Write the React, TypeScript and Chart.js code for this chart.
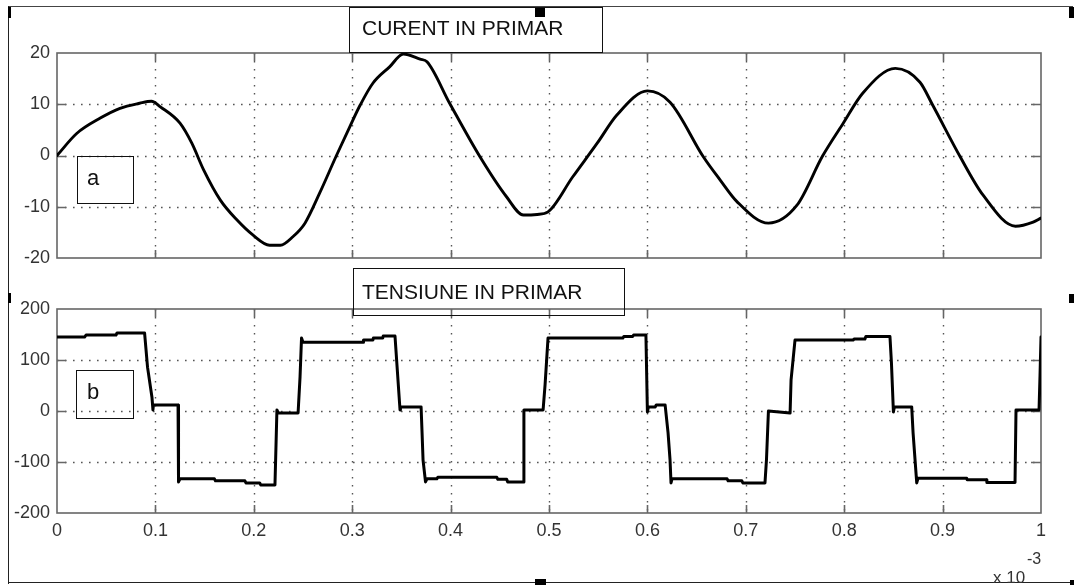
import React, { useEffect, useRef } from "react";
import { Chart, registerables } from "chart.js";

Chart.register(...registerables);

// ---- data (time in units of 1e-3 s) ----
const timeCurrent = [
  0, 0.02, 0.044, 0.064, 0.084, 0.096, 0.105, 0.125, 0.137, 0.149, 0.166, 0.183, 0.199, 0.216, 0.227,
  0.24, 0.252, 0.267, 0.284, 0.298, 0.308, 0.321, 0.338, 0.352, 0.369, 0.376, 0.399, 0.43, 0.457,
  0.474, 0.488, 0.499, 0.524, 0.549, 0.569, 0.6, 0.623, 0.657, 0.674, 0.691, 0.723, 0.752, 0.778, 0.799,
  0.819, 0.852, 0.877, 0.89, 0.918, 0.941, 0.974, 0.992, 1.0,
];
const current = [
  0, 4.3, 7.3, 9.2, 10.2, 10.6, 9.5, 6.3, 2.4, -2.8, -8.7, -12.6, -15.5, -17.5, -17.5,
  -15.8, -13.2, -7.3, 0, 5.8, 9.8, 14.1, 17.3, 19.8, 18.8, 18.3, 10.2, -0.3, -8.1,
  -11.6, -11.5, -11.0, -4.2, 2.4, 7.9, 12.6, 10.4, -0.3, -4.8, -9.0, -13.2, -9.7, -0.1, 6.3,
  12.2, 17.0, 14.3, 9.8, -0.3, -7.7, -13.8, -13.0, -12.2,
];

const timeVoltage = [
  0, 0.028, 0.0295, 0.06, 0.061, 0.089, 0.092, 0.0965, 0.0975, 0.098, 0.123, 0.1235, 0.125, 0.16, 0.161,
  0.191, 0.192, 0.206, 0.207, 0.2215, 0.2225, 0.2235, 0.225, 0.245, 0.247, 0.2485, 0.25, 0.311, 0.3115, 0.321,
  0.3215, 0.331, 0.3315, 0.3435, 0.3455, 0.3486, 0.349, 0.37, 0.371, 0.372, 0.3745, 0.376, 0.386, 0.387, 0.447,
  0.448, 0.457, 0.458, 0.474, 0.4745, 0.494, 0.496, 0.499, 0.575, 0.576, 0.585, 0.586, 0.5985, 0.6, 0.601,
  0.608, 0.609, 0.618, 0.621, 0.623, 0.624, 0.625, 0.681, 0.682, 0.696, 0.697, 0.7195, 0.721, 0.723, 0.745,
  0.746, 0.75, 0.809, 0.81, 0.821, 0.822, 0.8465, 0.848, 0.849, 0.85, 0.851, 0.8686, 0.87, 0.872, 0.8737,
  0.875, 0.9245, 0.925, 0.9448, 0.945, 0.9736, 0.9746, 0.998, 0.999, 1.0,
];
const voltage = [
  145, 145, 149, 149, 153, 153, 86, 27, 2, 12, 12, -139, -133, -133, -137,
  -137, -141, -141, -145, -145, -72, 2, -4, -4, 67, 143, 135, 135, 139, 139,
  143, 143, 147, 147, 90, 2, 8, 8, -43, -96, -139, -133, -133, -130, -130,
  -134, -134, -139, -139, 2, 2, 51, 143, 143, 146, 146, 149, 149, -2, 8,
  8, 12, 12, -43, -96, -141, -133, -133, -137, -137, -141, -141, -96, 0, -4,
  61, 139, 139, 141, 141, 146, 146, 95, 47, -2, 8, 8, -43, -96, -141,
  -132, -132, -135, -135, -140, -140, 2, 2, 70, 145,
];

const xTicks = [0, 0.1, 0.2, 0.3, 0.4, 0.5, 0.6, 0.7, 0.8, 0.9, 1];
const currentTicks = [-20, -10, 0, 10, 20];
const voltageTicks = [-200, -100, 0, 100, 200];

const FONT = '"Liberation Sans", Arial, Helvetica, sans-serif';

const panelPlugin = {
  id: "panelFrame",
  beforeDatasetsDraw(chart: any, _args: any, opts: any) {
    const { ctx, chartArea: a, scales } = chart;
    const xs = scales.x;
    const ys = scales.y;
    ctx.save();
    // dotted grid
    ctx.strokeStyle = "#555";
    ctx.lineWidth = 1.4;
    ctx.setLineDash([1.6, 6.4]);
    ctx.beginPath();
    for (const v of opts.xTicks) {
      if (v <= xs.min || v >= xs.max) continue;
      const px = Math.round(xs.getPixelForValue(v)) + 0.5;
      ctx.moveTo(px, a.top);
      ctx.lineTo(px, a.bottom);
    }
    for (const v of opts.yTicks) {
      if (v <= ys.min || v >= ys.max) continue;
      const py = Math.round(ys.getPixelForValue(v)) + 0.5;
      ctx.moveTo(a.left, py);
      ctx.lineTo(a.right, py);
    }
    ctx.stroke();
    ctx.setLineDash([]);
    // box
    ctx.strokeStyle = "#666";
    ctx.lineWidth = 1.6;
    ctx.strokeRect(a.left, a.top, a.right - a.left, a.bottom - a.top);
    // inward tick marks
    ctx.beginPath();
    for (const v of opts.xTicks) {
      if (v <= xs.min || v >= xs.max) continue;
      const px = Math.round(xs.getPixelForValue(v)) + 0.5;
      ctx.moveTo(px, a.top);
      ctx.lineTo(px, a.top + 8);
      ctx.moveTo(px, a.bottom);
      ctx.lineTo(px, a.bottom - 8);
    }
    for (const v of opts.yTicks) {
      if (v <= ys.min || v >= ys.max) continue;
      const py = Math.round(ys.getPixelForValue(v)) + 0.5;
      ctx.moveTo(a.left, py);
      ctx.lineTo(a.left + 9, py);
      ctx.moveTo(a.right, py);
      ctx.lineTo(a.right - 10, py);
    }
    ctx.stroke();
    ctx.restore();
  },
};

function makeConfig(
  times: number[],
  values: number[],
  yMin: number,
  yMax: number,
  yStep: number,
  yTicks: number[],
  padTop: number,
  padBottom: number,
  showX: boolean,
  width: number,
  smooth: boolean
): any {
  return {
    type: "line",
    data: {
      datasets: [
        {
          data: times.map((t, i) => ({ x: t, y: values[i] })),
          borderColor: "#000",
          borderWidth: width,
          borderJoinStyle: "round",
          borderCapStyle: "round",
          pointRadius: 0,
          fill: false,
          cubicInterpolationMode: smooth ? "monotone" : "default",
          tension: 0,
        },
      ],
    },
    plugins: [panelPlugin],
    options: {
      animation: false,
      responsive: false,
      devicePixelRatio: 1,
      layout: { padding: { left: 0, right: 33, top: padTop, bottom: padBottom } },
      plugins: {
        legend: { display: false },
        tooltip: { enabled: false },
        panelFrame: { xTicks, yTicks },
      },
      scales: {
        x: {
          type: "linear",
          min: 0,
          max: 1,
          grid: { display: false, drawTicks: false },
          border: { display: false },
          ticks: {
            display: showX,
            stepSize: 0.1,
            autoSkip: false,
            maxRotation: 0,
            padding: 7,
            color: "#333",
            font: { family: FONT, size: 18 },
            callback: (v: number) => String(Math.round(v * 10) / 10),
          },
          afterFit: (s: any) => {
            s.height = showX ? 30 : 0;
          },
        },
        y: {
          type: "linear",
          min: yMin,
          max: yMax,
          grid: { display: false, drawTicks: false },
          border: { display: false },
          ticks: {
            stepSize: yStep,
            padding: 7,
            color: "#333",
            font: { family: FONT, size: 18 },
          },
          afterFit: (s: any) => {
            s.width = 57;
          },
        },
      },
    },
  };
}

const abs = (style: React.CSSProperties): React.CSSProperties => ({ position: "absolute", ...style });

export default function App() {
  const topRef = useRef<HTMLCanvasElement>(null);
  const botRef = useRef<HTMLCanvasElement>(null);

  useEffect(() => {
    const c1 = new Chart(
      topRef.current!,
      makeConfig(timeCurrent, current, -20, 20, 10, currentTicks, 53, 327, false, 2.9, true)
    );
    const c2 = new Chart(
      botRef.current!,
      makeConfig(timeVoltage, voltage, -200, 200, 100, voltageTicks, 309, 42, true, 3, false)
    );
    return () => {
      c1.destroy();
      c2.destroy();
    };
  }, []);

  const box = "1.5px solid #111";
  return (
    <div
      style={abs({
        left: 0,
        top: 0,
        width: 1074,
        height: 585,
        overflow: "hidden",
        background: "#fff",
        fontFamily: FONT,
        color: "#111",
      })}
    >
      <canvas ref={topRef} width={1074} height={585} style={abs({ left: 0, top: 0 })} />
      <canvas ref={botRef} width={1074} height={585} style={abs({ left: 0, top: 0 })} />

      {/* outer frame */}
      <div style={abs({ left: 8, top: 6, width: 1065, height: 0, borderTop: "1.5px solid #444" })} />
      <div style={abs({ left: 8, top: 6, width: 0, height: 578, borderLeft: "1.5px solid #222" })} />
      <div style={abs({ left: 8, top: 582, width: 1065, height: 0, borderTop: "1.5px solid #222" })} />

      {/* selection handles */}
      <div style={abs({ left: 8, top: 7, width: 3, height: 11, background: "#000" })} />
      <div style={abs({ left: 535, top: 7, width: 10, height: 10, background: "#000" })} />
      <div style={abs({ left: 1069, top: 7, width: 5, height: 11, background: "#000" })} />
      <div style={abs({ left: 8, top: 293, width: 3, height: 10, background: "#000" })} />
      <div style={abs({ left: 1069, top: 294, width: 5, height: 9, background: "#000" })} />
      <div style={abs({ left: 535, top: 579, width: 11, height: 6, background: "#000" })} />
      <div style={abs({ left: 1070, top: 580, width: 4, height: 5, background: "#000" })} />

      {/* title boxes */}
      <div style={abs({ left: 349, top: 7, width: 252, height: 44, border: box })} />
      <div style={abs({ left: 362, top: 17, fontSize: 21, lineHeight: "21px", whiteSpace: "nowrap" })}>
        CURENT IN PRIMAR
      </div>
      <div style={abs({ left: 353, top: 268, width: 270, height: 46, border: box })} />
      <div style={abs({ left: 362, top: 281, fontSize: 21, lineHeight: "21px", whiteSpace: "nowrap" })}>
        TENSIUNE IN PRIMAR
      </div>

      {/* panel labels */}
      <div style={abs({ left: 77, top: 156, width: 55, height: 46, border: box })} />
      <div style={abs({ left: 87, top: 167, fontSize: 22, lineHeight: "22px" })}>a</div>
      <div style={abs({ left: 76, top: 370, width: 56, height: 47, border: box })} />
      <div style={abs({ left: 87, top: 381, fontSize: 22, lineHeight: "22px" })}>b</div>

      {/* axis multiplier */}
      <div style={abs({ left: 993, top: 569, fontSize: 17, lineHeight: "17px", color: "#333", whiteSpace: "nowrap" })}>
        x 10
      </div>
      <div style={abs({ left: 1027, top: 551, fontSize: 16, lineHeight: "16px", color: "#333" })}>-3</div>
    </div>
  );
}
